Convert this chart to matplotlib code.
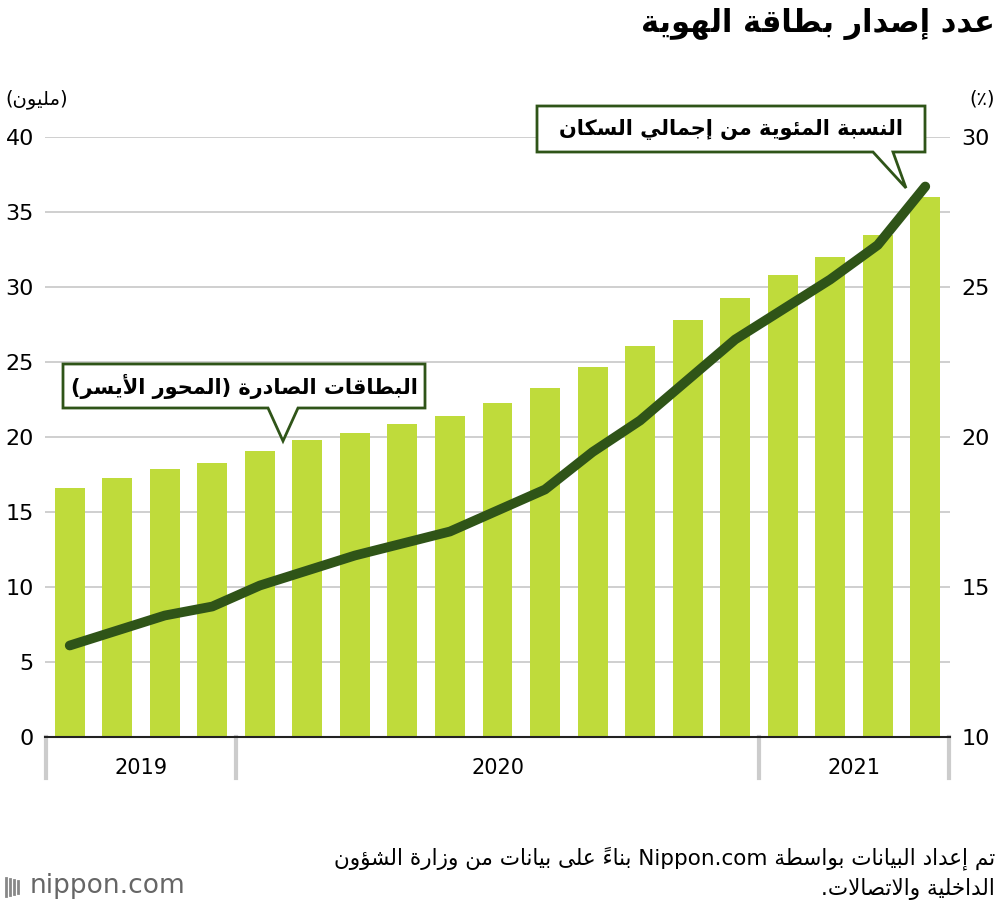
import re
import matplotlib
matplotlib.use('Agg')
import matplotlib.pyplot as plt
from matplotlib.patches import Polygon

# ---- data ----
cards_millions = [16.6, 17.3, 17.9, 18.3, 19.1, 19.8, 20.3, 20.9, 21.4, 22.3,
                  23.3, 24.7, 26.1, 27.8, 29.3, 30.8, 32.0, 33.5, 36.0]
share_pct = [13.05, 13.55, 14.05, 14.35, 15.05, 15.55, 16.05, 16.45, 16.85, 17.55,
             18.25, 19.5, 20.55, 21.9, 23.25, 24.25, 25.25, 26.4, 28.35]
years = ['2019', '2020', '2021']
year_counts = [4, 11, 4]
left_ticks = [0, 5, 10, 15, 20, 25, 30, 35, 40]
right_ticks = [10, 15, 20, 25, 30]

TITLE = 'عدد إصدار بطاقة الهوية'
LEFT_UNIT = '(مليون)'
RIGHT_UNIT = '(٪)'
BAR_LABEL = 'البطاقات الصادرة (المحور الأيسر)'
LINE_LABEL = 'النسبة المئوية من إجمالي السكان'
NOTE1 = 'تم إعداد البيانات بواسطة Nippon.com بناءً على بيانات من وزارة الشؤون'
NOTE2 = 'الداخلية والاتصالات.'

BAR_COLOR = '#bfdb3b'
LINE_COLOR = '#2f5418'
GRID_COLOR = '#cccccc'

# ---- minimal arabic shaping (matplotlib has no RTL support) ----
FORMS = {
    'ء': (0xFE80, 1), 'آ': (0xFE81, 2), 'أ': (0xFE83, 2), 'ؤ': (0xFE85, 2),
    'إ': (0xFE87, 2), 'ئ': (0xFE89, 4), 'ا': (0xFE8D, 2), 'ب': (0xFE8F, 4),
    'ة': (0xFE93, 2), 'ت': (0xFE95, 4), 'ث': (0xFE99, 4), 'ج': (0xFE9D, 4),
    'ح': (0xFEA1, 4), 'خ': (0xFEA5, 4), 'د': (0xFEA9, 2), 'ذ': (0xFEAB, 2),
    'ر': (0xFEAD, 2), 'ز': (0xFEAF, 2), 'س': (0xFEB1, 4), 'ش': (0xFEB5, 4),
    'ص': (0xFEB9, 4), 'ض': (0xFEBD, 4), 'ط': (0xFEC1, 4), 'ظ': (0xFEC5, 4),
    'ع': (0xFEC9, 4), 'غ': (0xFECD, 4), 'ف': (0xFED1, 4), 'ق': (0xFED5, 4),
    'ك': (0xFED9, 4), 'ل': (0xFEDD, 4), 'م': (0xFEE1, 4), 'ن': (0xFEE5, 4),
    'ه': (0xFEE9, 4), 'و': (0xFEED, 2), 'ى': (0xFEEF, 2), 'ي': (0xFEF1, 4),
}
LAM_ALEF = {'آ': 0xFEF5, 'أ': 0xFEF7, 'إ': 0xFEF9, 'ا': 0xFEFB}
MARKS = set('\u064b\u064c\u064d\u064e\u064f\u0650\u0651\u0652')


def shape(text):
    chars = list(text)

    def nxt(i):
        j = i + 1
        while j < len(chars) and chars[j] in MARKS:
            j += 1
        return chars[j] if j < len(chars) else None

    out = []
    prev_dual = False
    i = 0
    while i < len(chars):
        c = chars[i]
        if c in MARKS:
            out.append(c)
            i += 1
            continue
        if c not in FORMS:
            out.append(c)
            prev_dual = False
            i += 1
            continue
        n = nxt(i)
        if c == 'ل' and n in LAM_ALEF:
            out.append(chr(LAM_ALEF[n] + (1 if prev_dual else 0)))
            j = i + 1
            while chars[j] in MARKS:
                j += 1
            i = j + 1
            prev_dual = False
            continue
        base, nf = FORMS[c]
        jp = prev_dual and nf > 1
        jn = nf == 4 and n in FORMS
        if jp and jn:
            f = 3
        elif jp:
            f = 1
        elif jn:
            f = 2
        else:
            f = 0
        out.append(chr(base + f))
        prev_dual = nf == 4
        i += 1
    vis = ''.join(out)[::-1]
    vis = vis.translate(str.maketrans('()', ')('))
    vis = re.sub(r'[A-Za-z0-9]+(?:\.[A-Za-z0-9]+)*', lambda m: m.group(0)[::-1], vis)
    return vis


AR = ['DejaVu Sans']
plt.rcParams['font.family'] = ['DejaVu Sans']

fig = plt.figure(figsize=(10, 9.1), dpi=100)
W, H = 1000, 910
ax = fig.add_axes([45 / W, (H - 737) / H, 905 / W, 600 / H])
x = list(range(len(cards_millions)))
ax.bar(x, cards_millions, width=0.63, color=BAR_COLOR, zorder=2)
ax.set_xlim(-0.52, len(x) - 0.48)
ax.set_ylim(0, 40)
ax.set_yticks(left_ticks)
ax.set_yticklabels([str(t) for t in left_ticks])
ax.yaxis.grid(True, color=GRID_COLOR, lw=1.3, zorder=0)
ax.set_xticks([])
for s in ['top', 'right', 'left']:
    ax.spines[s].set_visible(False)
ax.spines['bottom'].set_color('#222222')
ax.spines['bottom'].set_linewidth(1.5)
ax.tick_params(axis='y', length=0, labelsize=16, pad=8)

ax2 = ax.twinx()
ax2.set_ylim(10, 30)
ax2.set_yticks(right_ticks)
ax2.plot(x, share_pct, color=LINE_COLOR, lw=7, solid_capstyle='round',
         solid_joinstyle='round', zorder=3)
for s in ['top', 'right', 'left', 'bottom']:
    ax2.spines[s].set_visible(False)
ax2.tick_params(axis='y', length=0, labelsize=16, pad=8)

# year bands under the axis
bounds = [-0.5]
for n in year_counts:
    bounds.append(bounds[-1] + n)
for b in bounds:
    ax.plot([b, b], [0, -2.7], color='#cccccc', lw=3, clip_on=False)
for k, yr in enumerate(years):
    ax.text((bounds[k] + bounds[k + 1]) / 2, -2.1, yr, ha='center', va='center',
            fontsize=15)

# overlay in pixel coordinates for callouts and text
ov = fig.add_axes([0, 0, 1, 1], zorder=10)
ov.set_xlim(0, W)
ov.set_ylim(H, 0)
ov.axis('off')


def callout(x0, x1, y0, y1, tip, base, label):
    pts = [(x0, y0), (x1, y0), (x1, y1), (base[1], y1), tip, (base[0], y1), (x0, y1)]
    ov.add_patch(Polygon(pts, closed=True, fc='white', ec=LINE_COLOR, lw=2))
    ov.text((x0 + x1) / 2, (y0 + y1) / 2, shape(label), ha='center', va='center',
            fontsize=15, fontweight='bold', family=AR)


callout(63, 425, 364, 408, (283, 441), (268, 298), BAR_LABEL)
callout(537, 925, 106, 152, (906, 188), (873, 893), LINE_LABEL)

ov.text(995, 24, shape(TITLE), ha='right', va='center', fontsize=22,
        fontweight='bold', family=AR)
ov.text(5, 99, shape(LEFT_UNIT), ha='left', va='center', fontsize=14, family=AR)
ov.text(995, 99, shape(RIGHT_UNIT), ha='right', va='center', fontsize=14, family=AR)
ov.text(995, 858, shape(NOTE1), ha='right', va='center', fontsize=15.5, family=AR)
ov.text(995, 889, shape(NOTE2), ha='right', va='center', fontsize=15.5, family=AR)
ov.text(30, 886, 'nippon.com', ha='left', va='center', fontsize=19, color='#666666')
for k in range(4):
    ov.plot([6 + k * 4, 6 + k * 4], [878 + k, 896 - k], color='#888888', lw=2)

fig.savefig('out.png', dpi=100)
